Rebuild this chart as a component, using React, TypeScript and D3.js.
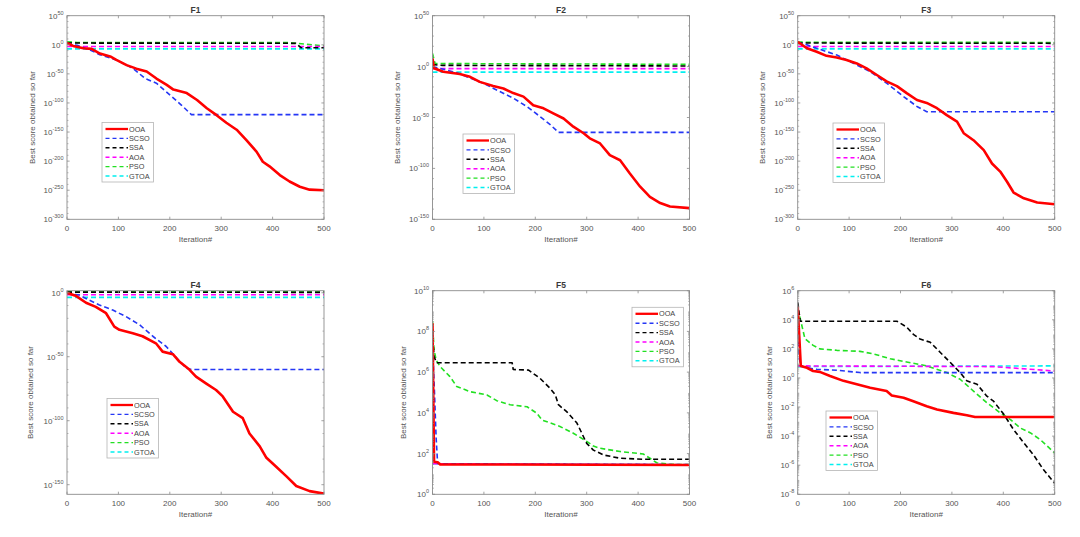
import * as d3 from "d3";

// convergence curves: [iteration, log10(best score so far)]
type Pt = [number, number];

const algorithms = ["OOA", "SCSO", "SSA", "AOA", "PSO", "GTOA"];
const colors = ["#ff0000", "#2537f5", "#000000", "#ff00ff", "#22e022", "#00f0f0"];
const xTicks = [0, 100, 200, 300, 400, 500];

const f1OOA: Pt[] = [[0, 3], [12, -2], [32, -6], [48, -7], [64, -15], [84, -20], [96, -26], [116, -35], [135, -41], [155, -46], [174, -58], [194, -69], [207, -77], [233, -83], [253, -95], [272, -109], [291, -121], [310, -134], [330, -146], [349, -164], [369, -184], [381, -201], [394, -209], [414, -224], [433, -235], [453, -244], [472, -249], [500, -250]];
const f1SCSO: Pt[] = [[0, 2], [20, -1], [45, -9], [64, -17], [96, -26], [129, -41], [152, -58], [174, -66], [200, -86], [223, -104], [242, -120], [500, -120]];
const f1SSA: Pt[] = [[0, 3], [445, 2.5], [455, -5], [500, -5]];
const f1AOA: Pt[] = [[0, -3], [500, -3]];
const f1PSO: Pt[] = [[0, 5], [20, 4], [430, 4], [500, -2]];
const f1GTOA: Pt[] = [[0, -7], [500, -7]];

const f2OOA: Pt[] = [[0, 8], [3, -1.7], [21, -5], [53, -7.3], [73, -10], [92, -15], [118, -19], [138, -21.5], [157, -26], [177, -29.5], [196, -38], [216, -41], [235, -46], [255, -51], [274, -59], [294, -65.5], [306, -70.5], [326, -75.5], [345, -87], [365, -92], [384, -105], [404, -118], [423, -128], [443, -134], [462, -137.5], [500, -139]];
const f2SCSO: Pt[] = [[0, 0], [14, -1.7], [47, -6], [99, -16.4], [131, -24.5], [157, -31], [183, -39], [209, -49], [229, -57], [245, -64.6], [500, -64.6]];
const f2SSA: Pt[] = [[0, 2], [20, 1.2], [500, 0.6]];
const f2AOA: Pt[] = [[0, -2], [500, -2]];
const f2PSO: Pt[] = [[0, 13], [5, 3], [500, 2.2]];
const f2GTOA: Pt[] = [[0, -5.4], [500, -5.4]];

const f3OOA: Pt[] = [[0, 5], [18, -6], [37, -12], [56, -19], [76, -22], [95, -26], [115, -32], [134, -40.5], [154, -52], [173, -63], [193, -71], [212, -83], [232, -95], [251, -100], [271, -109], [290, -121], [310, -132], [323, -152], [342, -164], [362, -181], [378, -204], [394, -218], [407, -235], [420, -254], [440, -264], [466, -271], [500, -274]];
const f3SCSO: Pt[] = [[0, 4], [18, 0], [37, -6], [76, -17.6], [102, -29], [141, -46], [173, -66], [206, -89], [232, -106], [251, -115], [500, -115]];
const f3SSA: Pt[] = [[0, 3], [500, 2.5]];
const f3AOA: Pt[] = [[0, -3], [500, -3]];
const f3PSO: Pt[] = [[0, 4.5], [500, 4]];
const f3GTOA: Pt[] = [[0, -7], [500, -7]];

const f4OOA: Pt[] = [[0, 0], [18, -2.6], [37, -7.8], [56, -11], [76, -16], [92, -26.5], [102, -29], [128, -31.7], [147, -34], [173, -39.5], [186, -46], [206, -48], [219, -54], [238, -60], [251, -65.5], [271, -71], [290, -76], [303, -81], [323, -93], [342, -98], [355, -110], [375, -120], [388, -129], [407, -136], [427, -143.5], [446, -151], [472, -155], [500, -157]];
const f4SCSO: Pt[] = [[0, -0.5], [24, -1.8], [43, -5.7], [63, -9.6], [89, -13.5], [115, -18.7], [141, -25], [167, -34], [193, -42], [212, -50.4], [232, -59], [242, -60], [500, -60]];
const f4SSA: Pt[] = [[0, 0.5], [500, 0.3]];
const f4AOA: Pt[] = [[0, -1.6], [500, -1.6]];
const f4PSO: Pt[] = [[0, 1], [500, 0.8]];
const f4GTOA: Pt[] = [[0, -3.6], [500, -3.6]];

const f5OOA: Pt[] = [[0, 8.4], [3, 1.6], [10, 1.57], [15, 1.47], [500, 1.44]];
const f5SCSO: Pt[] = [[0, 7.5], [3, 5.6], [7, 2.8], [10, 1.5], [500, 1.46]];
const f5SSA: Pt[] = [[0, 8], [3, 6.76], [8, 6.46], [155, 6.46], [157, 6.13], [187, 6.1], [209, 5.7], [229, 5.2], [239, 4.88], [245, 4.4], [261, 4.06], [281, 3.5], [300, 2.5], [313, 2.17], [333, 1.93], [365, 1.77], [410, 1.72], [500, 1.72]];
const f5AOA: Pt[] = [[0, 1.5], [500, 1.45]];
const f5PSO: Pt[] = [[0, 8.5], [3, 7.1], [7, 6.6], [15, 6.27], [34, 5.78], [47, 5.3], [73, 5.04], [106, 4.88], [125, 4.6], [151, 4.4], [184, 4.3], [203, 3.98], [213, 3.65], [248, 3.33], [274, 3.0], [300, 2.6], [313, 2.37], [326, 2.26], [365, 2.1], [410, 1.98], [423, 1.77], [436, 1.55], [462, 1.47], [500, 1.46]];
const f5GTOA: Pt[] = [[0, 1.5], [500, 1.45]];

const f6OOA: Pt[] = [[0, 4.9], [3, 2.9], [6, 0.83], [18, 0.7], [30, 0.48], [43, 0.42], [63, 0.14], [89, -0.2], [115, -0.44], [141, -0.67], [173, -0.9], [183, -1.2], [206, -1.36], [225, -1.6], [251, -1.94], [271, -2.17], [303, -2.4], [329, -2.56], [345, -2.68], [500, -2.68]];
const f6SCSO: Pt[] = [[0, 3.6], [3, 1.4], [6, 0.83], [18, 0.7], [37, 0.6], [76, 0.53], [121, 0.37], [500, 0.37]];
const f6SSA: Pt[] = [[0, 5.2], [5, 3.9], [193, 3.9], [212, 3.5], [225, 3.0], [238, 2.68], [258, 2.45], [277, 1.77], [297, 1.06], [316, 0.37], [329, -0.2], [349, -0.44], [368, -1.25], [381, -1.6], [401, -2.5], [420, -3.55], [440, -4.47], [459, -5.3], [478, -6.3], [500, -7.24]];
const f6AOA: Pt[] = [[0, 0.83], [380, 0.78], [500, 0.48]];
const f6PSO: Pt[] = [[0, 4.76], [5, 4.07], [14, 2.7], [30, 2.24], [43, 2.0], [76, 1.9], [121, 1.83], [147, 1.66], [180, 1.32], [212, 1.1], [251, 0.83], [290, 0.37], [316, -0.09], [342, -0.9], [368, -1.7], [394, -2.4], [414, -2.86], [433, -3.44], [453, -3.78], [472, -4.24], [500, -5.16]];
const f6GTOA: Pt[] = [[0, 0.78], [500, 0.83]];

const W = 257;
const H = 203.6;
const FONT = "'Liberation Sans', Arial, sans-serif";

type PanelSpec = {
  title: string;
  left: number;
  top: number;
  logMin: number;
  logMax: number;
  yTicks: number[];
  minor: "decade10" | "log";
  series: Pt[][];
  legend: [number, number];
  labelOff: number;
};

const panels: PanelSpec[] = [
  { title: "F1", left: 67, top: 15.7, logMin: -300, logMax: 50, yTicks: [50, 0, -50, -100, -150, -200, -250, -300], minor: "decade10", series: [f1OOA, f1SCSO, f1SSA, f1AOA, f1PSO, f1GTOA], legend: [102, 122.5], labelOff: 32 },
  { title: "F2", left: 432.5, top: 15.7, logMin: -150, logMax: 50, yTicks: [50, 0, -50, -100, -150], minor: "decade10", series: [f2OOA, f2SCSO, f2SSA, f2AOA, f2PSO, f2GTOA], legend: [463, 134], labelOff: 33 },
  { title: "F3", left: 797.7, top: 15.7, logMin: -300, logMax: 50, yTicks: [50, 0, -50, -100, -150, -200, -250, -300], minor: "decade10", series: [f3OOA, f3SCSO, f3SSA, f3AOA, f3PSO, f3GTOA], legend: [833, 123], labelOff: 33 },
  { title: "F4", left: 67, top: 290.7, logMin: -157.5, logMax: 1.6, yTicks: [0, -50, -100, -150], minor: "decade10", series: [f4OOA, f4SCSO, f4SSA, f4AOA, f4PSO, f4GTOA], legend: [107, 398.5], labelOff: 34 },
  { title: "F5", left: 432.5, top: 290.7, logMin: 0, logMax: 10, yTicks: [10, 8, 6, 4, 2, 0], minor: "log", series: [f5OOA, f5SCSO, f5SSA, f5AOA, f5PSO, f5GTOA], legend: [632, 307.3], labelOff: 27 },
  { title: "F6", left: 797.7, top: 290.7, logMin: -8, logMax: 6, yTicks: [6, 4, 2, 0, -2, -4, -6, -8], minor: "log", series: [f6OOA, f6SCSO, f6SSA, f6AOA, f6PSO, f6GTOA], legend: [826, 411], labelOff: 26 },
];

function Panel({ p, idx }: { p: PanelSpec; idx: number }) {
  const x = d3.scaleLinear().domain([0, 500]).range([p.left, p.left + W]);
  const y = d3.scaleLog().domain([10 ** p.logMin, 10 ** p.logMax]).range([p.top + H, p.top]);
  const line = d3
    .line<Pt>()
    .x((d) => x(d[0]))
    .y((d) => y(10 ** d[1]));
  const bottom = p.top + H;
  const right = p.left + W;
  const axisColor = "#8c8c8c";
  const textColor = "#555";

  // minor tick positions (log10 values)
  const minors: number[] = [];
  if (p.minor === "decade10") {
    for (let e = Math.ceil(p.logMin / 10) * 10; e <= p.logMax; e += 10) {
      if (e % 50 !== 0) minors.push(e);
    }
  } else {
    for (let e = p.logMin; e < p.logMax; e++) {
      for (let m = 2; m <= 9; m++) minors.push(e + Math.log10(m));
    }
  }

  const clipId = `clip-${idx}`;
  const order = [5, 4, 3, 2, 1, 0];

  return (
    <g fontFamily={FONT}>
      <defs>
        <clipPath id={clipId}>
          <rect x={p.left} y={p.top} width={W} height={H} />
        </clipPath>
      </defs>
      <rect x={p.left} y={p.top} width={W} height={H} fill="#fff" />

      {/* series */}
      <g clipPath={`url(#${clipId})`}>
        {order.map((i) => (
          <path
            key={i}
            d={line(p.series[i]) || ""}
            fill="none"
            stroke={colors[i]}
            strokeWidth={i === 0 ? 2.6 : 1.6}
            strokeDasharray={i === 0 ? undefined : "5,3"}
            strokeLinejoin="round"
          />
        ))}
      </g>

      {/* frame */}
      <rect x={p.left} y={p.top} width={W} height={H} fill="none" stroke={axisColor} strokeWidth={0.9} />

      {/* x ticks */}
      {xTicks.map((t) => (
        <g key={`x${t}`}>
          <line x1={x(t)} x2={x(t)} y1={bottom} y2={bottom - 2.6} stroke={axisColor} strokeWidth={0.8} />
          <line x1={x(t)} x2={x(t)} y1={p.top} y2={p.top + 2.6} stroke={axisColor} strokeWidth={0.8} />
          <text x={x(t)} y={bottom + 12} textAnchor="middle" fontSize={8} fill={textColor}>
            {t}
          </text>
        </g>
      ))}

      {/* y ticks */}
      {p.yTicks.map((e) => (
        <g key={`y${e}`}>
          <line x1={p.left} x2={p.left + 2.6} y1={y(10 ** e)} y2={y(10 ** e)} stroke={axisColor} strokeWidth={0.8} />
          <line x1={right} x2={right - 2.6} y1={y(10 ** e)} y2={y(10 ** e)} stroke={axisColor} strokeWidth={0.8} />
          <text x={p.left - 3.5} y={y(10 ** e) + 3} textAnchor="end" fontSize={8} fill={textColor}>
            <tspan>10</tspan>
            <tspan dy={-4} fontSize={5.5}>{e}</tspan>
          </text>
        </g>
      ))}
      {minors.map((e, k) => (
        <g key={`m${k}`}>
          <line x1={p.left} x2={p.left + 1.5} y1={y(10 ** e)} y2={y(10 ** e)} stroke={axisColor} strokeWidth={0.6} />
          <line x1={right} x2={right - 1.5} y1={y(10 ** e)} y2={y(10 ** e)} stroke={axisColor} strokeWidth={0.6} />
        </g>
      ))}

      {/* labels */}
      <text x={p.left + W / 2} y={p.top - 3} textAnchor="middle" fontSize={8.5} fontWeight="bold" fill="#3a3a3a">
        {p.title}
      </text>
      <text x={p.left + W / 2} y={bottom + 23} textAnchor="middle" fontSize={8} fill={textColor}>
        Iteration#
      </text>
      <text
        transform={`translate(${p.left - p.labelOff},${p.top + H / 2}) rotate(-90)`}
        textAnchor="middle"
        fontSize={8}
        fill={textColor}
      >
        Best score obtained so far
      </text>

      {/* legend */}
      <g transform={`translate(${p.legend[0]},${p.legend[1]})`}>
        <rect x={0} y={0} width={51.5} height={59.5} fill="#fff" stroke="#b5b5b5" strokeWidth={0.8} />
        {algorithms.map((name, i) => (
          <g key={name} transform={`translate(0,${6.5 + i * 9.4})`}>
            <line
              x1={3.5}
              x2={26}
              y1={0}
              y2={0}
              stroke={colors[i]}
              strokeWidth={i === 0 ? 2.3 : 1.4}
              strokeDasharray={i === 0 ? undefined : "4,3"}
            />
            <text x={27} y={2.6} fontSize={7.3} fill="#444">
              {name}
            </text>
          </g>
        ))}
      </g>
    </g>
  );
}

export default function App() {
  return (
    <svg
      width={1080}
      height={537}
      viewBox="0 0 1080 537"
      style={{ position: "absolute", left: 0, top: 0, background: "#fff" }}
    >
      <rect x={0} y={0} width={1080} height={537} fill="#fff" />
      {panels.map((p, i) => (
        <Panel key={p.title} p={p} idx={i} />
      ))}
    </svg>
  );
}
